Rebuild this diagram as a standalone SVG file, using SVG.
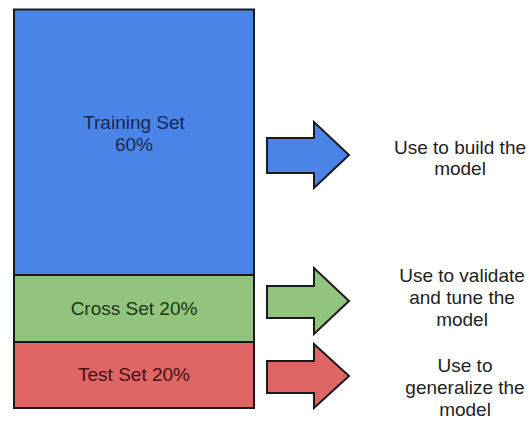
<svg xmlns="http://www.w3.org/2000/svg" width="528" height="421" viewBox="0 0 528 421">
<style>
.box{stroke:#1a1a1a;stroke-width:2}
.arr{stroke:#1a1a1a;stroke-width:2;stroke-linejoin:miter}
text{font-family:"Liberation Sans",Arial,sans-serif;font-size:19px;text-anchor:middle}
.lbl{fill:#222}
</style>
<rect width="528" height="421" fill="#ffffff"/>
<g id="training">
<rect class="box" x="14" y="9.5" width="240" height="265.5" fill="#4a84e6"/>
<text x="134" y="129" fill="#1a2850">Training Set</text>
<text x="134" y="151" fill="#1a2850">60%</text>
</g>
<g id="cross">
<rect class="box" x="14" y="275" width="240" height="67" fill="#93c47d"/>
<text x="134" y="315" fill="#1c3516">Cross Set 20%</text>
</g>
<g id="test">
<rect class="box" x="14" y="342" width="240" height="66" fill="#e06666"/>
<text x="134" y="381" fill="#441010">Test Set 20%</text>
</g>
<g id="connectors">
<path class="arr" fill="#4a84e6" d="M267,138 H314 V122 L349,155 L314,188 V173 H267 Z"/>
<path class="arr" fill="#93c47d" d="M267,286 H314 V268 L349,301 L314,334 V318 H267 Z"/>
<path class="arr" fill="#e06666" d="M267,361 H314 V344 L349,376 L314,408 V393 H267 Z"/>
</g>
<g id="use-build">
<text class="lbl" x="460" y="154">Use to build the</text>
<text class="lbl" x="460" y="175">model</text>
</g>
<g id="use-validate">
<text class="lbl" x="462" y="282">Use to validate</text>
<text class="lbl" x="462" y="304">and tune the</text>
<text class="lbl" x="462" y="326">model</text>
</g>
<g id="use-generalize">
<text class="lbl" x="465" y="372">Use to</text>
<text class="lbl" x="465" y="394">generalize the</text>
<text class="lbl" x="465" y="416">model</text>
</g>
</svg>
